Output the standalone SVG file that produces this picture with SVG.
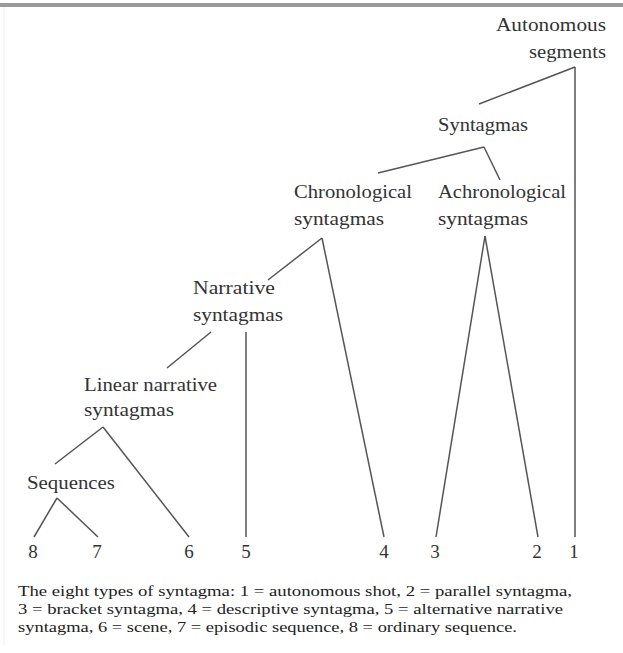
<svg xmlns="http://www.w3.org/2000/svg" width="623" height="653" viewBox="0 0 623 653">
<style>
  .lbl { font-family: "Liberation Serif", "DejaVu Serif", serif; font-size: 18px; fill: #333; }
  .num { font-family: "Liberation Serif", "DejaVu Serif", serif; font-size: 19px; fill: #333; }
  .cap { font-family: "Liberation Serif", "DejaVu Serif", serif; font-size: 15.5px; fill: #222; }
  .edge { stroke: #555; stroke-width: 1.5; fill: none; }
</style>
<rect x="0" y="0" width="623" height="653" fill="#fff"/>
<rect x="0" y="3" width="623" height="4" fill="#9a9a9a"/>
<line x1="4" y1="7" x2="4" y2="645" stroke="#f0f0f0" stroke-width="1"/>

<g id="connectors">
  <line class="edge" x1="575" y1="67" x2="479" y2="104"/>
  <line class="edge" x1="575" y1="67" x2="575" y2="537"/>
  <line class="edge" x1="378" y1="173" x2="484" y2="147"/>
  <line class="edge" x1="484" y1="147" x2="500" y2="180"/>
  <line class="edge" x1="322" y1="238" x2="268" y2="280"/>
  <line class="edge" x1="322" y1="238" x2="384" y2="537"/>
  <line class="edge" x1="485" y1="236" x2="436" y2="537"/>
  <line class="edge" x1="485" y1="236" x2="538" y2="537"/>
  <line class="edge" x1="211" y1="332" x2="167" y2="368"/>
  <line class="edge" x1="246" y1="332" x2="246" y2="537"/>
  <line class="edge" x1="103" y1="427" x2="55" y2="464"/>
  <line class="edge" x1="103" y1="427" x2="189" y2="537"/>
  <line class="edge" x1="57" y1="498" x2="34" y2="537"/>
  <line class="edge" x1="57" y1="498" x2="98" y2="537"/>
</g>

<g id="node-autonomous">
  <text class="lbl" x="496" y="31" textLength="110" lengthAdjust="spacingAndGlyphs">Autonomous</text>
  <text class="lbl" x="529" y="58" textLength="77" lengthAdjust="spacingAndGlyphs">segments</text>
</g>
<g id="node-syntagmas">
  <text class="lbl" x="438" y="131" textLength="90" lengthAdjust="spacingAndGlyphs">Syntagmas</text>
</g>
<g id="node-chronological">
  <text class="lbl" x="294" y="198" textLength="118" lengthAdjust="spacingAndGlyphs">Chronological</text>
  <text class="lbl" x="294" y="225" textLength="90" lengthAdjust="spacingAndGlyphs">syntagmas</text>
</g>
<g id="node-achronological">
  <text class="lbl" x="438" y="198" textLength="128" lengthAdjust="spacingAndGlyphs">Achronological</text>
  <text class="lbl" x="438" y="225" textLength="90" lengthAdjust="spacingAndGlyphs">syntagmas</text>
</g>
<g id="node-narrative">
  <text class="lbl" x="193" y="294" textLength="82" lengthAdjust="spacingAndGlyphs">Narrative</text>
  <text class="lbl" x="193" y="321" textLength="90" lengthAdjust="spacingAndGlyphs">syntagmas</text>
</g>
<g id="node-linear">
  <text class="lbl" x="84" y="391" textLength="133" lengthAdjust="spacingAndGlyphs">Linear narrative</text>
  <text class="lbl" x="84" y="416" textLength="90" lengthAdjust="spacingAndGlyphs">syntagmas</text>
</g>
<g id="node-sequences">
  <text class="lbl" x="27" y="489" textLength="88" lengthAdjust="spacingAndGlyphs">Sequences</text>
</g>
<g id="leaves">
  <text class="num" x="33" y="558" text-anchor="middle">8</text>
  <text class="num" x="97" y="558" text-anchor="middle">7</text>
  <text class="num" x="189" y="558" text-anchor="middle">6</text>
  <text class="num" x="246" y="558" text-anchor="middle">5</text>
  <text class="num" x="384" y="558" text-anchor="middle">4</text>
  <text class="num" x="435" y="558" text-anchor="middle">3</text>
  <text class="num" x="537" y="558" text-anchor="middle">2</text>
  <text class="num" x="574" y="558" text-anchor="middle">1</text>
</g>
<g id="caption">
  <text class="cap" x="18" y="596" textLength="554" lengthAdjust="spacingAndGlyphs">The eight types of syntagma: 1 = autonomous shot, 2 = parallel syntagma,</text>
  <text class="cap" x="18" y="614" textLength="545" lengthAdjust="spacingAndGlyphs">3 = bracket syntagma, 4 = descriptive syntagma, 5 = alternative narrative</text>
  <text class="cap" x="18" y="632" textLength="499" lengthAdjust="spacingAndGlyphs">syntagma, 6 = scene, 7 = episodic sequence, 8 = ordinary sequence.</text>
</g>
</svg>
